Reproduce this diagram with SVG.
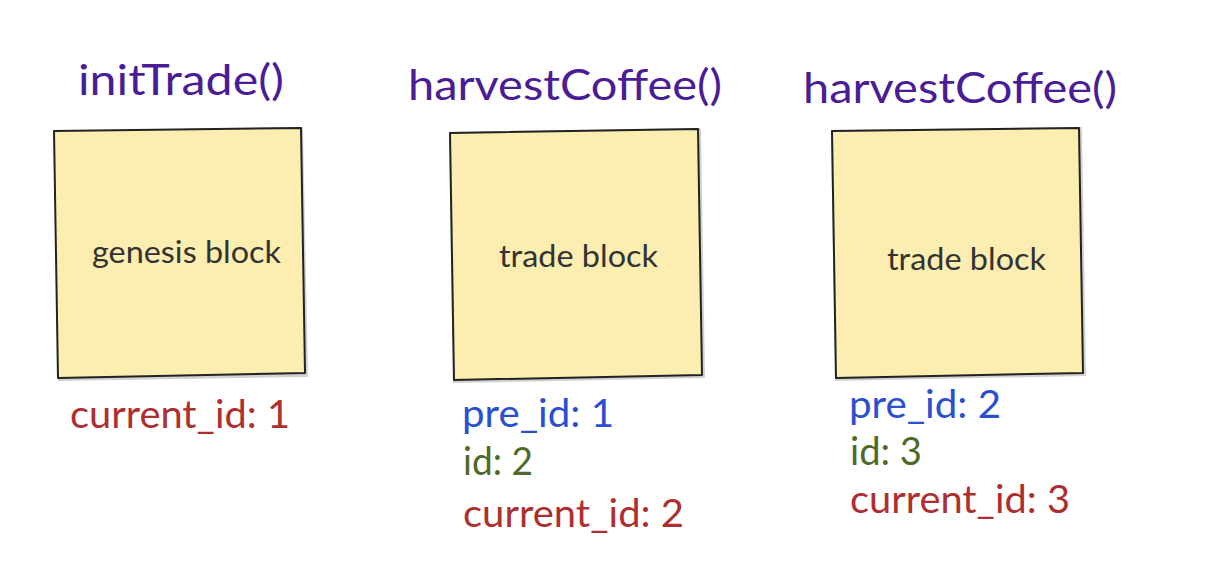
<svg xmlns="http://www.w3.org/2000/svg" width="1207" height="562" viewBox="0 0 1207 562">
<defs>
<style>
.title{font-family:Lato,"Liberation Sans",sans-serif;font-size:42px;fill:#4a1d96}
.box{fill:#fbeeb0;stroke:#222;stroke-width:2;stroke-linejoin:round}
.shadow{fill:none;stroke:#000;stroke-opacity:0.18;stroke-width:4}
.inner{font-family:Lato,"Liberation Sans",sans-serif;font-size:31px;fill:#333}
.lbl{font-family:Lato,"Liberation Sans",sans-serif;font-size:39px}
.blue{fill:#2b4fcf}
.green{fill:#4e6a2a}
.red{fill:#ad2f2f}
</style>
</defs>
<rect width="1207" height="562" fill="#fff"/>
<g id="node-genesis">
<text class="title" x="78" y="95" textLength="206" lengthAdjust="spacingAndGlyphs">initTrade()</text>
<polygon class="shadow" points="55,132 300,128 305,374 59,378" transform="translate(1,1)"/>
<polygon class="box" points="54,131 301,128 305,373 58,378"/>
<text class="inner" x="92" y="263" textLength="189" lengthAdjust="spacingAndGlyphs">genesis block</text>
<text class="lbl red" x="70" y="428" textLength="220" lengthAdjust="spacingAndGlyphs">current_id: 1</text>
</g>
<g id="node-trade1">
<text class="title" x="408" y="100" textLength="314" lengthAdjust="spacingAndGlyphs">harvestCoffee()</text>
<polygon class="shadow" points="450,133 698,129 702,375 454,380" transform="translate(1,1)"/>
<polygon class="box" points="450,133 698,129 702,375 454,380"/>
<text class="inner" x="499" y="267" textLength="159" lengthAdjust="spacingAndGlyphs">trade block</text>
<text class="lbl blue" x="462" y="427" textLength="152" lengthAdjust="spacingAndGlyphs">pre_id: 1</text>
<text class="lbl green" x="463" y="475" textLength="70" lengthAdjust="spacingAndGlyphs">id: 2</text>
<text class="lbl red" x="463" y="527" textLength="221" lengthAdjust="spacingAndGlyphs">current_id: 2</text>
</g>
<g id="node-trade2">
<text class="title" x="803" y="103" textLength="314" lengthAdjust="spacingAndGlyphs">harvestCoffee()</text>
<polygon class="shadow" points="832,131 1079,128 1083,373 836,378" transform="translate(1,1)"/>
<polygon class="box" points="832,131 1079,128 1083,373 836,378"/>
<text class="inner" x="887" y="270" textLength="159" lengthAdjust="spacingAndGlyphs">trade block</text>
<text class="lbl blue" x="849" y="418" textLength="152" lengthAdjust="spacingAndGlyphs">pre_id: 2</text>
<text class="lbl green" x="850" y="465" textLength="72" lengthAdjust="spacingAndGlyphs">id: 3</text>
<text class="lbl red" x="850" y="513" textLength="220" lengthAdjust="spacingAndGlyphs">current_id: 3</text>
</g>
<g id="connectors"></g>
</svg>
